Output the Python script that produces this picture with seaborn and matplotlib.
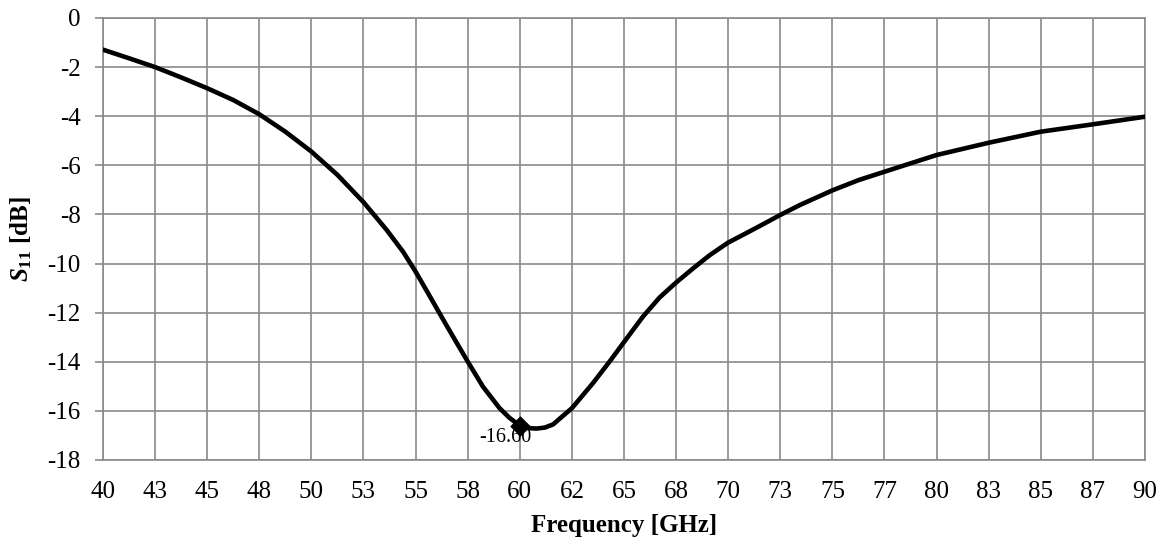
import numpy as np
import pandas as pd
import matplotlib
matplotlib.use("Agg")
import matplotlib.pyplot as plt
import seaborn as sns

# ---- data ----
freq_ghz = [40.0, 41.25, 42.5, 43.75, 45.0, 46.25, 47.5, 48.75, 50.0, 51.25,
            52.5, 53.6, 54.4, 55.0, 55.6, 56.24, 56.8, 57.5, 58.23, 59.03,
            59.5, 60.0, 60.4, 60.8, 61.2, 61.6, 61.91, 62.5, 63.51, 64.31,
            64.98, 65.91, 66.71, 67.49, 68.31, 69.11, 69.99, 70.87, 71.67, 72.5,
            73.43, 75.0, 76.26, 77.5, 78.75, 80.0, 82.5, 85.0, 87.5, 90.0]
s11_db = [-1.29, -1.64, -2.00, -2.42, -2.86, -3.34, -3.92, -4.63, -5.44, -6.39,
          -7.50, -8.62, -9.52, -10.33, -11.21, -12.16, -12.98, -13.99, -15.01, -15.89,
          -16.28, -16.60, -16.70, -16.72, -16.68, -16.55, -16.32, -15.89, -14.87, -13.99,
          -13.22, -12.16, -11.38, -10.78, -10.20, -9.66, -9.15, -8.76, -8.40, -8.02,
          -7.62, -7.02, -6.60, -6.26, -5.92, -5.58, -5.08, -4.63, -4.33, -4.02]

marker_freq = [60.0]
marker_s11 = [-16.60]
marker_label = "-16.60"

x_ticks = [40, 42.5, 45, 47.5, 50, 52.5, 55, 57.5, 60, 62.5, 65, 67.5, 70,
           72.5, 75, 77.5, 80, 82.5, 85, 87.5, 90]
x_tick_labels = ["40", "43", "45", "48", "50", "53", "55", "58", "60", "62", "65",
                 "68", "70", "73", "75", "77", "80", "83", "85", "87", "90"]
y_ticks = [0, -2, -4, -6, -8, -10, -12, -14, -16, -18]
y_tick_labels = ["0", "-2", "-4", "-6", "-8", "-10", "-12", "-14", "-16", "-18"]

x_label = "Frequency [GHz]"
y_label = r"$\mathit{S}_{\mathit{11}}$ [dB]"

# ---- styling ----
sns.set_theme(style="white")
plt.rcParams["font.family"] = ["Liberation Serif", "DejaVu Serif"]
plt.rcParams["mathtext.fontset"] = "custom"
plt.rcParams["mathtext.it"] = "Liberation Serif:italic:bold"
plt.rcParams["mathtext.rm"] = "Liberation Serif:bold"
plt.rcParams["mathtext.bf"] = "Liberation Serif:bold"

grid_color = "#8a8a8a"
fs = 18

df = pd.DataFrame({"freq": freq_ghz, "s11": s11_db})
mk = pd.DataFrame({"freq": marker_freq, "s11": marker_s11})

fig, ax = plt.subplots(figsize=(11.65, 5.46), dpi=100)
fig.subplots_adjust(left=103 / 1165, right=1145 / 1165,
                    top=1 - 18 / 546, bottom=1 - 460 / 546)

sns.lineplot(data=df, x="freq", y="s11", ax=ax, color="black", linewidth=3.3,
             sort=False, zorder=3)
sns.scatterplot(data=mk, x="freq", y="s11", ax=ax, color="black", marker="D",
                s=100, edgecolor="black", linewidth=0.5, zorder=4)
ax.annotate(marker_label, (marker_freq[0], marker_s11[0]), xytext=(-10.5, -8.5),
            textcoords="offset points", ha="center", va="center", fontsize=14.5,
            color="black", zorder=5)

ax.set_xlim(40, 90)
ax.set_ylim(-18, 0)
ax.set_xticks(x_ticks)
ax.set_xticklabels(x_tick_labels)
ax.set_yticks(y_ticks)
ax.set_yticklabels(y_tick_labels)

ax.grid(True, color=grid_color, linewidth=1.2)
ax.set_axisbelow(True)
for s in ax.spines.values():
    s.set_visible(True)
    s.set_color(grid_color)
    s.set_linewidth(1.2)

ax.tick_params(axis="y", which="major", length=6, width=1.2, color=grid_color,
               direction="out", left=True, pad=10, labelsize=fs, labelcolor="black")
ax.tick_params(axis="x", which="major", length=0, pad=15, labelsize=fs,
               labelcolor="black")

ax.set_xlabel(x_label, fontsize=fs, fontweight="bold", color="black", labelpad=8)
ax.set_ylabel(y_label, fontsize=fs, fontweight="bold", color="black", labelpad=10)

fig.savefig("out.png", dpi=100, facecolor="white")
